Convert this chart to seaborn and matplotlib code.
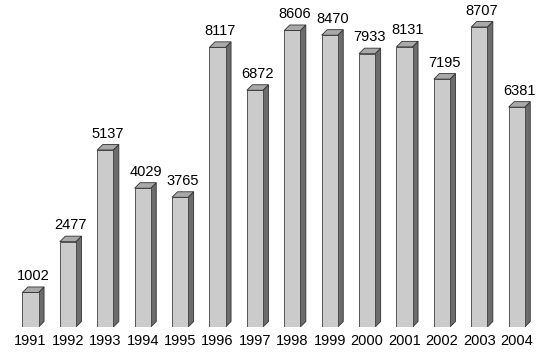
import matplotlib
matplotlib.use("Agg")
import matplotlib.pyplot as plt
import seaborn as sns
import pandas as pd
from matplotlib.patches import Polygon

years = ["1991", "1992", "1993", "1994", "1995", "1996", "1997",
         "1998", "1999", "2000", "2001", "2002", "2003", "2004"]
values = [1002, 2477, 5137, 4029, 3765, 8117, 6872,
          8606, 8470, 7933, 8131, 7195, 8707, 6381]

df = pd.DataFrame({"year": years, "value": values})

sns.set_style("white")
plt.rcParams['font.family'] = ['Liberation Sans', 'DejaVu Sans']

fig = plt.figure(figsize=(5.4, 3.56), dpi=100)
ax = fig.add_axes([11.8 / 540, 29 / 356, 523.6 / 540, 327 / 356])

sns.barplot(data=df, x="year", y="value", color="#cbcbcb", width=0.43,
            edgecolor="#404040", linewidth=0.6, saturation=1, ax=ax, zorder=3)

ax.set_xlim(-0.5, len(years) - 0.5)
ax.set_ylim(0, 9491)

px_x = (len(years)) / 523.6
px_y = 9491 / 327
dx = 5.5 * px_x
dy = 5.5 * px_y

for p, v in zip(ax.patches, values):
    x0 = p.get_x()
    w = p.get_width()
    h = p.get_height()
    x1 = x0 + w
    side = Polygon([(x1, 0), (x1 + dx, dy), (x1 + dx, h + dy), (x1, h)],
                   closed=True, facecolor="#6c6c6c", edgecolor="#303030",
                   linewidth=0.6, zorder=2)
    top = Polygon([(x0, h), (x1, h), (x1 + dx, h + dy), (x0 + dx, h + dy)],
                  closed=True, facecolor="#a9a9a9", edgecolor="#303030",
                  linewidth=0.6, zorder=4)
    ax.add_patch(side)
    ax.add_patch(top)
    ax.text(x0 + (w + dx) / 2, h + dy + 4 * px_y, f"{v}", ha="center",
            va="bottom", fontsize=10.5, color="#000000")

ax.set_xlabel("")
ax.set_ylabel("")
ax.set_yticks([])
ax.tick_params(axis="x", length=0, pad=5, labelsize=10.5, labelcolor="#000000")
for lbl in ax.get_xticklabels():
    lbl.set_x(lbl.get_position()[0])
for s in ax.spines.values():
    s.set_visible(False)
ax.patch.set_alpha(0)

fig.savefig("out.png", dpi=100, facecolor="white")
